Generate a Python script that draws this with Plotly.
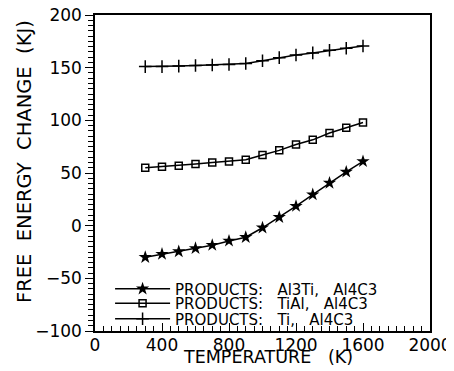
import plotly.graph_objects as go

temperature = [300, 400, 500, 600, 700, 800, 900, 1000, 1100, 1200, 1300, 1400, 1500, 1600]
al3ti_al4c3 = [-30, -27, -24.5, -21.5, -18.5, -14.5, -11, -2, 8, 18.5, 29.5, 40.5, 51, 61]
tial_al4c3 = [55, 56, 57, 58.5, 60, 61, 62.5, 67, 71.5, 77, 81.5, 88, 93, 98]
ti_al4c3 = [151, 151, 151.5, 152, 152.5, 153, 154, 156.5, 159.5, 162, 164, 166.5, 168.5, 170.5]

SP = "\u00a0"
names = ["PRODUCTS:" + SP * 3 + "Al3Ti," + SP * 3 + "Al4C3",
         "PRODUCTS:" + SP * 3 + "TiAl," + SP * 3 + "Al4C3",
         "PRODUCTS:" + SP * 3 + "Ti," + SP * 3 + "Al4C3"]
x_ticks = [0, 400, 800, 1200, 1600, 2000]
y_ticks = [-100, -50, 0, 50, 100, 150, 200]
x_title = "TEMPERATURE" + SP * 3 + "(K)"
y_title = "FREE" + SP * 2 + "ENERGY" + SP * 2 + "CHANGE" + SP * 2 + "(KJ)"

FONT = "DejaVu Sans"

fig = go.Figure()
fig.add_trace(go.Scatter(x=temperature, y=al3ti_al4c3, name=names[0], mode="lines+markers",
                         legend="legend",
                         line=dict(color="black", width=1.5),
                         marker=dict(symbol="star", size=10, color="black")))
fig.add_trace(go.Scatter(x=temperature, y=tial_al4c3, name=names[1], mode="lines+markers",
                         legend="legend2",
                         line=dict(color="black", width=1.5),
                         marker=dict(symbol="square-open", size=7, color="black", line=dict(width=1.5))))
fig.add_trace(go.Scatter(x=temperature, y=ti_al4c3, name=names[2], mode="lines+markers",
                         legend="legend3",
                         line=dict(color="black", width=1.5),
                         marker=dict(symbol="cross-thin", size=9, color="black", line=dict(width=1.5, color="black"))))

leg_common = dict(x=0.045, xanchor="left", yanchor="middle", bgcolor="rgba(0,0,0,0)",
                  font=dict(size=15, family=FONT), itemwidth=55)

fig.update_layout(
    width=446, height=363,
    margin=dict(l=87, r=24, t=7, b=40, autoexpand=False),
    paper_bgcolor="white", plot_bgcolor="white",
    font=dict(family=FONT, color="black", size=17),
    showlegend=True,
    legend=dict(y=0.133, **leg_common),
    legend2=dict(y=0.087, **leg_common),
    legend3=dict(y=0.038, **leg_common),
    annotations=[
        dict(text=x_title, xref="paper", yref="paper", x=0.515, y=0, yshift=-26,
             xanchor="center", yanchor="middle", showarrow=False, font=dict(size=17.5)),
        dict(text=y_title, xref="paper", yref="paper", x=0, y=0.5, xshift=-71, yshift=11,
             xanchor="center", yanchor="middle", textangle=-90, showarrow=False, font=dict(size=19.5)),
    ],
)
fig.update_xaxes(
    range=[0, 2000], tickvals=x_ticks, ticktext=[str(v) for v in x_ticks],
    showline=True, linecolor="black", linewidth=1.5, mirror=True,
    ticks="inside", ticklen=8, tickwidth=1.2, tickcolor="black",
    minor=dict(ticks="inside", ticklen=5, dtick=50, tickwidth=1, tickcolor="black"),
    showgrid=False, zeroline=False, automargin=False,
    ticklabelstandoff=-2, ticklabeloverflow="allow",
    tickfont=dict(size=17),
)
fig.update_yaxes(
    range=[-100, 200], tickvals=y_ticks, ticktext=["\u2212100", "\u221250", "0", "50", "100", "150", "200"],
    showline=True, linecolor="black", linewidth=1.5, mirror=True,
    ticks="outside", ticklen=8, tickwidth=1.2, tickcolor="black",
    minor=dict(ticks="outside", ticklen=5, dtick=5, tickwidth=1, tickcolor="black"),
    showgrid=False, zeroline=False, automargin=False,
    ticklabeloverflow="allow",
    tickfont=dict(size=17),
)

fig.write_html("out.html")
